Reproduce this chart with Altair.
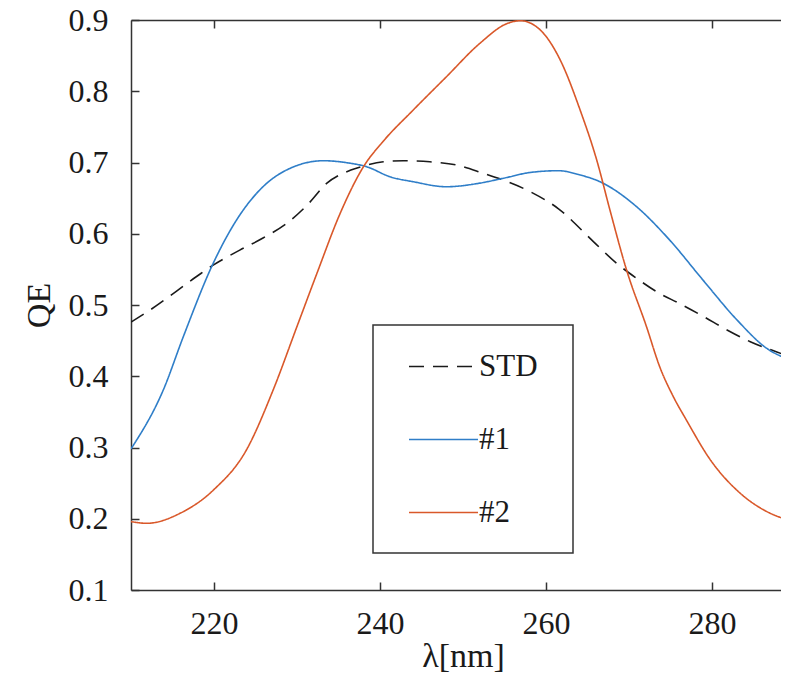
import altair as alt
import pandas as pd

# ---- data ----
series_names = ["STD", "#1", "#2"]
series_colors = ["#1a1a1a", "#2f7ec8", "#d9582a"]

std_wl = [210, 212.3, 217.9, 219.9, 223.1, 225.9, 228.8, 231.2, 233.6, 236.4, 238.0,
          240.4, 242.8, 246.0, 249.2, 252.4, 254.9, 258.1, 261.5, 265.7, 268.5,
          270.9, 273.7, 276.1, 279.0, 281.8, 284.6, 287.8, 290]
std_qe = [0.476, 0.493, 0.540, 0.556, 0.577, 0.594, 0.615, 0.640, 0.671, 0.689, 0.695,
          0.701, 0.7025, 0.701, 0.6965, 0.685, 0.675, 0.659, 0.635, 0.589, 0.5585,
          0.5375, 0.516, 0.502, 0.4836, 0.465, 0.4485, 0.434, 0.425]

s1_wl = [210, 213.9, 216.3, 219.9, 222.7, 225.9, 229.2, 233.2, 236.0, 238.4, 241.2,
         244.0, 248.0, 252.0, 254.9, 258.1, 261.5, 264.1, 266.5, 270.9, 274.9,
         278.9, 283.0, 286.6, 289.3, 290]
s1_qe = [0.298, 0.381, 0.4555, 0.5585, 0.619, 0.666, 0.692, 0.7025, 0.6997, 0.694, 0.680,
         0.673, 0.666, 0.671, 0.678, 0.686, 0.6885, 0.6825, 0.673, 0.638, 0.591,
         0.535, 0.479, 0.439, 0.4228, 0.419]

s2_wl = [210, 211.9, 215.9, 219.9, 223.9, 227.1, 230.0, 232.4, 235.2, 238.0, 240.4,
         244.0, 248.0, 252.0, 255.3, 256.9, 259.3, 261.7, 264.1, 266.1, 267.7,
         269.7, 272.1, 273.7, 275.3, 276.9, 279.8, 283.4, 286.6, 289.3, 290]
s2_qe = [0.196, 0.1936, 0.2076, 0.240, 0.2965, 0.380, 0.470, 0.5445, 0.6287, 0.694, 0.730,
         0.7737, 0.8204, 0.867, 0.895, 0.899, 0.886, 0.844, 0.7737, 0.7035, 0.633,
         0.549, 0.4695, 0.413, 0.372, 0.3386, 0.2825, 0.2357, 0.21, 0.198, 0.196]

x_ticks = [220, 240, 260, 280]
y_ticks = [0.1, 0.2, 0.3, 0.4, 0.5, 0.6, 0.7, 0.8, 0.9]

rows = []
for name, wl, qe in [("STD", std_wl, std_qe), ("#1", s1_wl, s1_qe), ("#2", s2_wl, s2_qe)]:
    for a, b in zip(wl, qe):
        rows.append({"series": name, "wl": a, "qe": b})
df = pd.DataFrame(rows)

FONT = "Liberation Serif"
AX = "#333333"
TXT = "#1a1a1a"

xs = alt.Scale(domain=[210, 288.3], nice=False, zero=False)
ys = alt.Scale(domain=[0.1, 0.9], nice=False, zero=False)

# an invisible bottom title only widens / heightens the legend frame
legend = alt.Legend(
    title="——————————", titleOrient="bottom", titleAnchor="start",
    titleFontSize=18.8, titlePadding=0, titleOpacity=0, titleFont=FONT, titleLimit=400,
    orient="none", legendX=242, legendY=305,
    symbolType="stroke", symbolSize=4761, symbolStrokeWidth=1.6,
    padding=6, rowPadding=22, symbolOffset=29, labelOffset=0,
    labelFont=FONT, labelFontSize=31, labelColor=TXT,
    strokeColor=AX, fillColor="white",
)

lines = alt.Chart(df).mark_line(clip=True, strokeWidth=1.6, interpolate="monotone").encode(
    x=alt.X("wl:Q", scale=xs, axis=alt.Axis(
        orient="bottom", values=x_ticks, format="d", title="λ[nm]",
        grid=False, domainColor=AX, domainWidth=1.5, tickColor=AX, tickWidth=1.5,
        tickSize={"expr": "-8"}, labelPadding=26, labelFont=FONT, labelFontSize=32,
        labelColor=TXT, titleFont=FONT, titleFontSize=34, titleFontWeight="normal",
        titleColor=TXT, titleX=332, titleY=76, titleBaseline="alphabetic")),
    y=alt.Y("qe:Q", scale=ys, axis=alt.Axis(
        orient="left", values=y_ticks, format=".1f", title="QE",
        grid=False, domainColor=AX, domainWidth=1.5, tickColor=AX, tickWidth=1.5,
        tickSize={"expr": "-8"}, labelPadding=31, labelFont=FONT, labelFontSize=32,
        labelColor=TXT, titleFont=FONT, titleFontSize=34, titleFontWeight="normal",
        titleColor=TXT, titlePadding=12)),
    color=alt.Color("series:N", scale=alt.Scale(domain=series_names, range=series_colors),
                    legend=legend),
    strokeDash=alt.StrokeDash("series:N", scale=alt.Scale(domain=series_names,
                              range=[[15, 9], [1, 0], [1, 0]]),
                              legend=legend),
)

frame = alt.Chart(df).mark_point(opacity=0).encode(
    x=alt.X("wl:Q", scale=xs, axis=alt.Axis(
        orient="top", values=x_ticks, labels=False, title=None, grid=False,
        domainColor=AX, domainWidth=1.5, tickColor=AX, tickWidth=1.5,
        tickSize={"expr": "-8"})),
    y=alt.Y("qe:Q", scale=ys),
)

chart = alt.layer(lines, frame).resolve_axis(x="independent").properties(
    width=650, height=570,
    autosize=alt.AutoSizeParams(type="none"),
    padding={"left": 123, "top": 12, "right": 0, "bottom": 83},
).configure_view(stroke=None).configure_legend(strokeWidth=1.5)

chart.save("out.html", embed_options={"renderer": "svg", "actions": False})
